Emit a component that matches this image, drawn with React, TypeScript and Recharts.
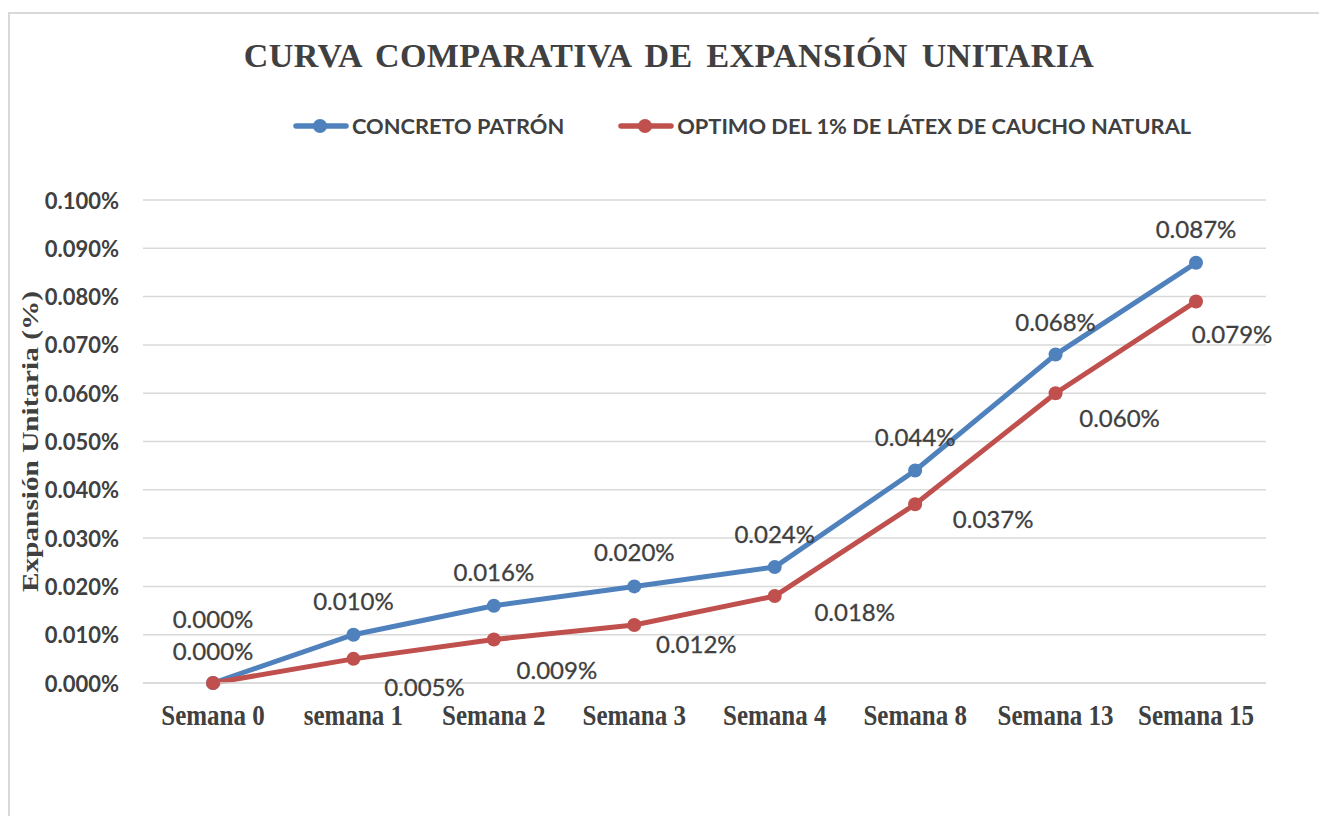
import React from 'react';
import { LineChart, Line, XAxis, YAxis, CartesianGrid, LabelList } from 'recharts';

const weeks = ['Semana 0', 'semana 1', 'Semana 2', 'Semana 3', 'Semana 4', 'Semana 8', 'Semana 13', 'Semana 15'];
const patron = [0.0, 0.01, 0.016, 0.02, 0.024, 0.044, 0.068, 0.087];
const latex = [0.0, 0.005, 0.009, 0.012, 0.018, 0.037, 0.06, 0.079];
const yTicks = [0, 0.01, 0.02, 0.03, 0.04, 0.05, 0.06, 0.07, 0.08, 0.09, 0.1];

const SERIES = [
  { key: 'patron', name: 'CONCRETO PATRÓN', color: '#4f81bd' },
  { key: 'latex', name: 'OPTIMO DEL 1% DE LÁTEX DE CAUCHO NATURAL', color: '#c0504d' },
];

// label placement, tweaked by hand like the original excel chart
const patronOffsets = [[0, -65], [0, -34], [0, -34], [0, -35], [0, -34], [0, -34], [0, -33], [0, -34]];
const latexOffsets = [[0, -33], [71, 28], [63, 30], [62, 18], [80, 15], [78, 14], [64, 24], [36, 32]];

const data = weeks.map((w, i) => ({ name: w, patron: patron[i], latex: latex[i] }));

const TEXT = '#404040';
const SANS = 'Lato, "Open Sans", sans-serif';
const SERIF = '"Liberation Serif", "Times New Roman", serif';
const fmt = (v: number) => `${v.toFixed(3)}%`;

const makeLabel = (offsets: number[][]) => (props: any) => {
  const { x, y, value, index } = props;
  const [dx, dy] = offsets[index] || [0, -30];
  return (
    <text x={x + dx} y={y + dy} fill={TEXT} fontFamily={SANS} fontSize={24}
      textAnchor="middle" dominantBaseline="central" stroke={TEXT} strokeWidth={0.3}>
      {fmt(value)}
    </text>
  );
};

const XTick = ({ x, y, payload }: any) => (
  <g transform={`translate(${x},${y + 34}) scale(1,1.2)`}>
    <text x={0} y={0} textAnchor="middle" fill={TEXT} fontFamily={SERIF} fontWeight="bold" fontSize={25}>
      {payload.value}
    </text>
  </g>
);

const YTick = ({ x, y, payload }: any) => (
  <text x={x} y={y} textAnchor="end" dominantBaseline="central" fill={TEXT}
    fontFamily={SANS} fontWeight="bold" fontSize={22}>
    {fmt(payload.value)}
  </text>
);

const YLabel = ({ viewBox }: any) => {
  const cx = 30;
  const cy = viewBox.y + viewBox.height / 2;
  return (
    <text transform={`translate(${cx},${cy}) rotate(-90) scale(1.22,1)`} textAnchor="middle"
      dominantBaseline="central" fill={TEXT} fontFamily={SERIF} fontWeight="bold" fontSize={24}>
      Expansión Unitaria (%)
    </text>
  );
};

const ChartLegend = () => (
  <div style={{
    position: 'absolute', top: 112, left: 293, display: 'flex', alignItems: 'center',
    fontFamily: SANS, fontWeight: 'bold', fontSize: 21.8, color: TEXT, whiteSpace: 'nowrap',
  }}>
    {SERIES.map((s, i) => (
      <div key={s.key} style={{ display: 'flex', alignItems: 'center', marginRight: i === 0 ? 54 : 0 }}>
        <svg width={56} height={16} style={{ marginRight: 3 }}>
          <line x1={3} y1={8} x2={53} y2={8} stroke={s.color} strokeWidth={5.5} strokeLinecap="round" />
          <circle cx={27} cy={8} r={7} fill={s.color} />
        </svg>
        <span>{s.name}</span>
      </div>
    ))}
  </div>
);

export default function App() {
  return (
    <div style={{ position: 'fixed', left: 0, top: 0, width: 1319, height: 816, background: '#fff', overflow: 'hidden' }}>
      <div style={{ position: 'absolute', left: 8, top: 12, width: 1330, height: 830, border: '2px solid #d9d9d9' }} />
      <div style={{
        position: 'absolute', left: 0, top: 37, width: 1338, textAlign: 'center',
        fontFamily: SERIF, fontWeight: 'bold', fontSize: 34, color: TEXT, letterSpacing: 0.4, wordSpacing: 5,
      }}>
        CURVA COMPARATIVA DE EXPANSIÓN UNITARIA
      </div>
      <ChartLegend />
      <LineChart width={1319} height={816} data={data} margin={{ top: 200, right: 53, bottom: 0, left: 0 }}
        style={{ position: 'absolute', left: 0, top: 0 }}>
        <CartesianGrid vertical={false} stroke="#d9d9d9" strokeWidth={1.5} />
        <XAxis dataKey="name" axisLine={{ stroke: '#d9d9d9', strokeWidth: 1.5 }} tickLine={false}
          tick={<XTick />} interval={0} height={133} padding={{ left: 70, right: 70 }} />
        <YAxis domain={[0, 0.1]} ticks={yTicks} width={143} axisLine={false} tickLine={false}
          tickSize={0} tickMargin={24} tick={<YTick />} label={<YLabel />} />
        {SERIES.map((s) => (
          <Line key={s.key} dataKey={s.key} name={s.name} stroke={s.color} strokeWidth={5}
            dot={{ r: 7, fill: s.color, stroke: s.color, strokeWidth: 0 }} activeDot={false}
            isAnimationActive={false}>
            <LabelList dataKey={s.key} content={makeLabel(s.key === 'patron' ? patronOffsets : latexOffsets)} />
          </Line>
        ))}
      </LineChart>
    </div>
  );
}
